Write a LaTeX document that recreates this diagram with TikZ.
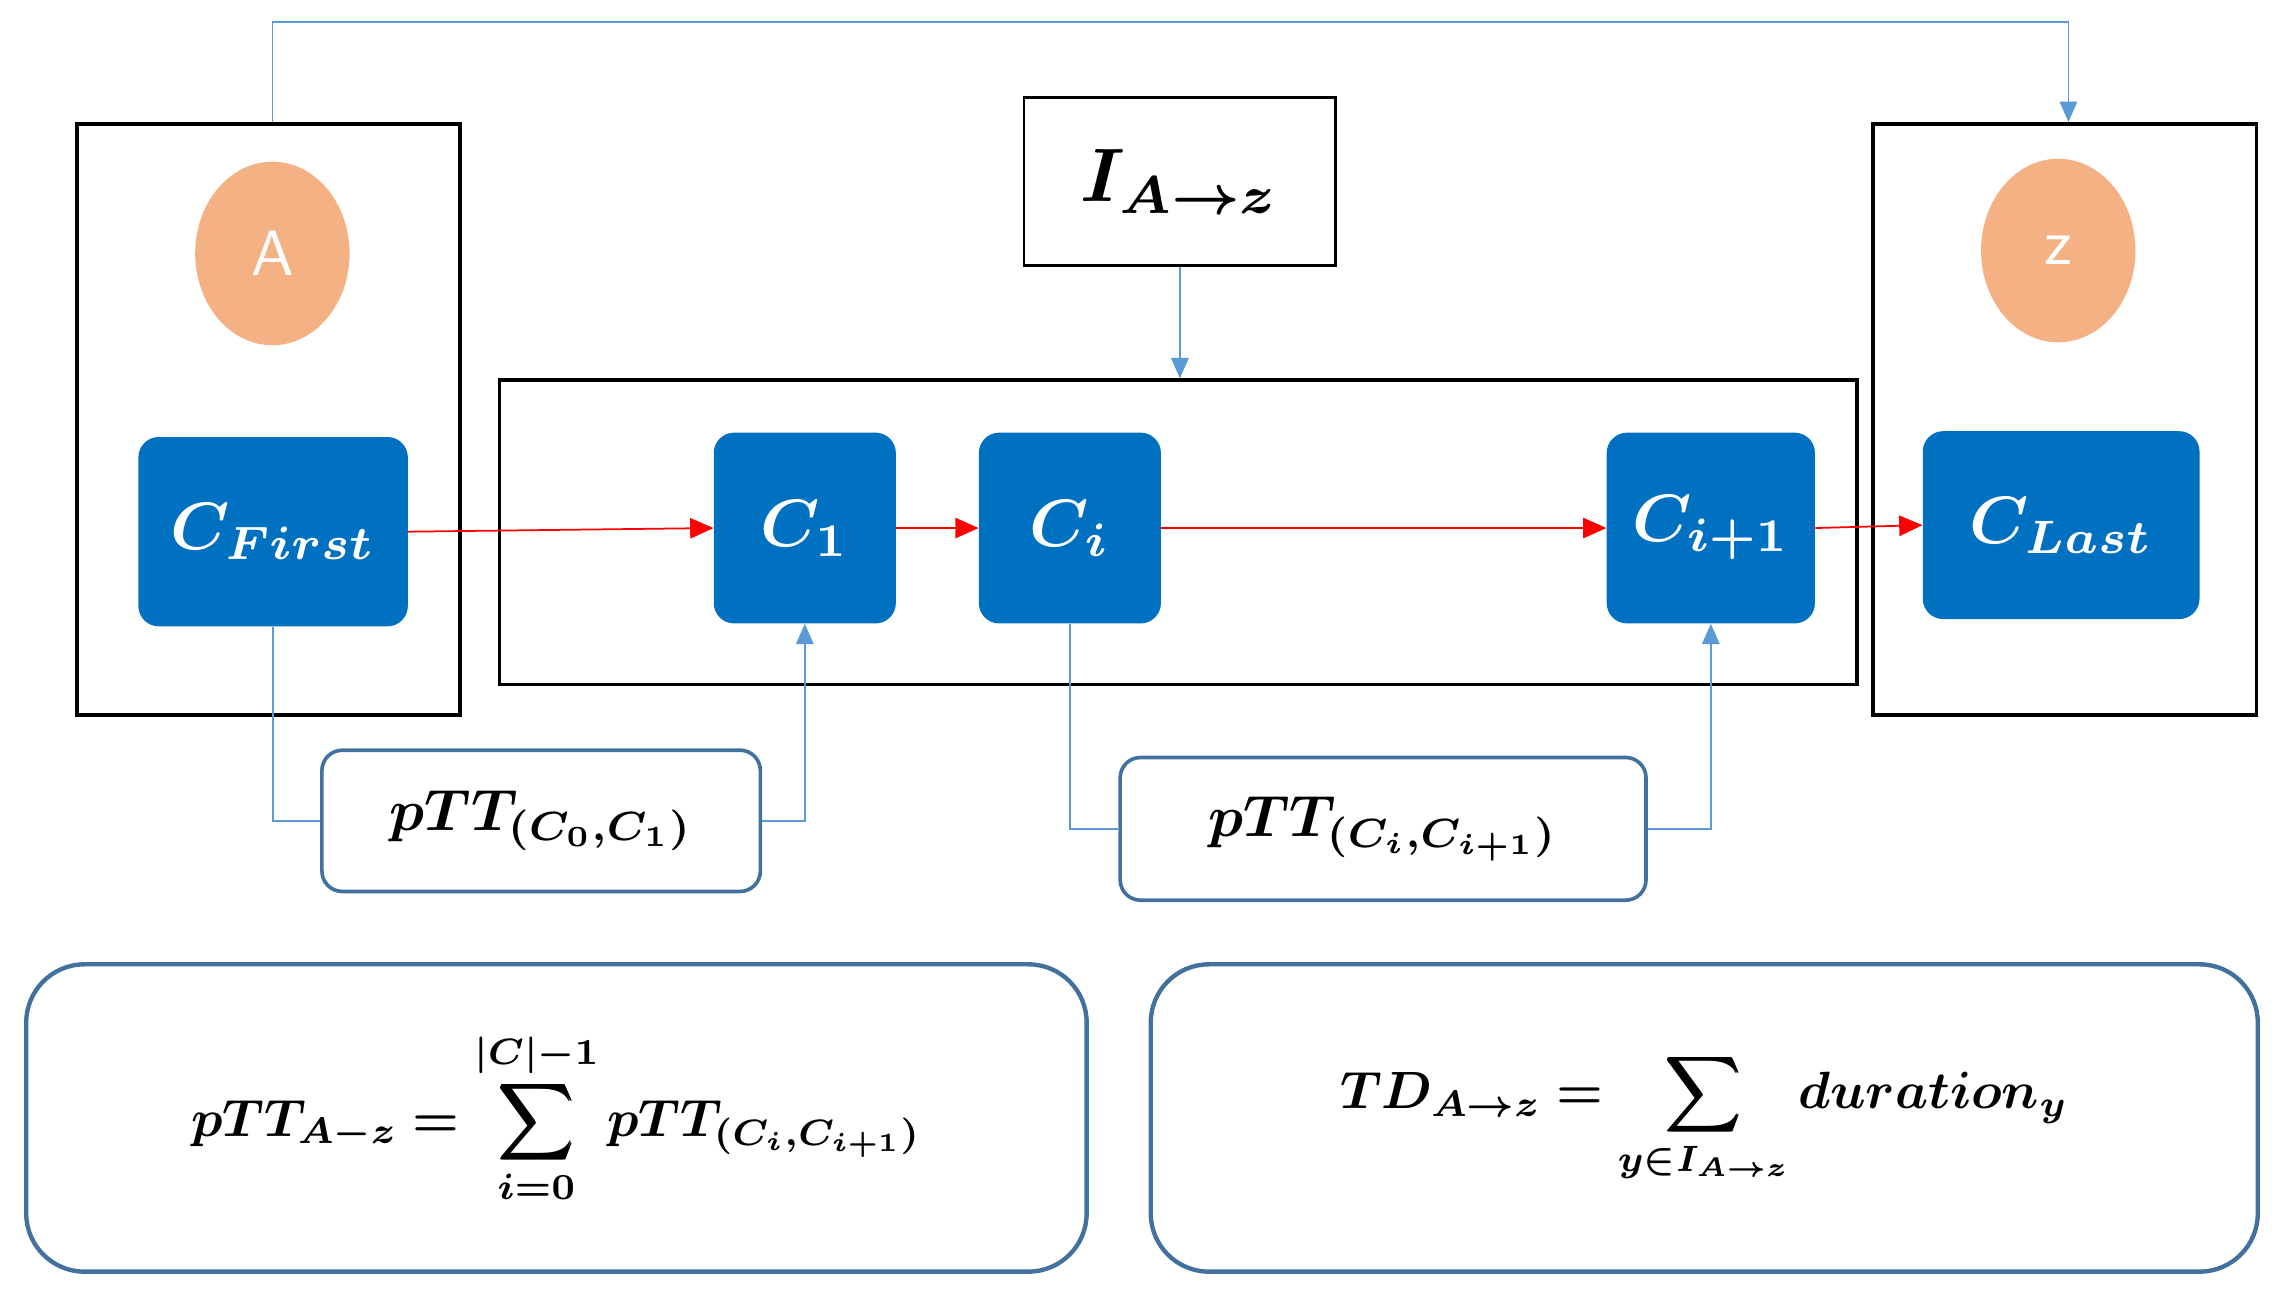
\documentclass[tikz,border=0pt]{standalone}
\usepackage{graphicx}
\usepackage{amsmath,bm}
\usetikzlibrary{arrows.meta,shapes.geometric}
\definecolor{cblue}{HTML}{0070C0}
\definecolor{lblue}{HTML}{5B9BD5}
\definecolor{bord}{HTML}{41719C}
\definecolor{orng}{HTML}{F4B183}
\newcommand{\mysc}[2]{\scalebox{#1}{$#2$}}
\tikzset{
 frame/.style={draw=black,line width=2.5pt,inner sep=0},
 cnode/.style={fill=cblue,rounded corners=14pt,text=white,inner sep=0},
 ell/.style={ellipse,fill=orng,text=white,inner sep=0,font=\sffamily},
 pbox/.style={draw=bord,line width=2.5pt,rounded corners=14pt,inner sep=0},
 fbox/.style={draw=bord,line width=3pt,rounded corners=40pt,inner sep=0},
 lb/.style={draw=lblue,line width=1.2pt},
 la/.style={lb,-{Triangle[length=14pt,width=12pt]}},
 ra/.style={draw=red,line width=1.2pt,-{Triangle[length=16pt,width=14pt]}}
}
\begin{document}
\begin{tikzpicture}[x=1pt,y=-1pt]
\useasboundingbox (0,0) rectangle (1568,895);
\node[frame,minimum width=263,minimum height=406] (L) at (184.5,288) {};
\node[frame,minimum width=932,minimum height=209] (M) at (809,365.5) {};
\node[frame,minimum width=263,minimum height=406] (R) at (1417.5,288) {};
\node[frame,line width=2pt,minimum width=214,minimum height=115] (I) at (810,124.5) {\mysc{5.2}{\bm{I_{A\to z}}}};
\node[ell,minimum width=106,minimum height=126] (A) at (187,174) {\scalebox{4.4}{A}};
\node[ell,minimum width=106,minimum height=126] (Z) at (1413,172) {\scalebox{4.4}{z}};
\node[cnode,minimum width=185,minimum height=130] (CF) at (187.5,365) {\mysc{4.6}{\bm{C_{First}}}};
\node[cnode,minimum width=125,minimum height=131] (C1) at (552.5,362.5) {\mysc{4.6}{\bm{C_1}}};
\node[cnode,minimum width=125,minimum height=131] (Ci) at (734.5,362.5) {\mysc{4.6}{\bm{C_i}}};
\node[cnode,minimum width=143,minimum height=131] (Cn) at (1174.5,362.5) {\mysc{4.6}{\bm{C_{i+1}}}};
\node[cnode,minimum width=190,minimum height=129] (CL) at (1415,360.5) {\mysc{4.6}{\bm{C_{Last}}}};
\node[pbox,minimum width=301,minimum height=97] (P1) at (371.5,563.5) {\mysc{4}{\bm{pTT_{(C_0,C_1)}}}};
\node[pbox,minimum width=361,minimum height=98] (P2) at (949.5,569) {\mysc{4}{\bm{pTT_{(C_i,C_{i+1})}}}};
\node[fbox,minimum width=728,minimum height=211] (F1) at (382,767.5) {\mysc{3.6}{\displaystyle\bm{pTT_{A-z}=\sum_{i=0}^{|C|-1}pTT_{(C_i,C_{i+1})}}}};
\node[fbox,minimum width=760,minimum height=211] (F2) at (1170,767.5) {\mysc{3.6}{\displaystyle\bm{TD_{A\to z}=\sum_{y\in I_{A\to z}}duration_y}}};
\coordinate (t1) at (187,15); \coordinate (t2) at (1420,15);
\draw[la] (L.north -| A) -- (t1) -- (t2) -- (t2 |- R.north);
\draw[la] (I.south) -- (M.north -| I.south);
\draw[ra] (CF.east) -- (C1.west);
\draw[ra] (C1.east) -- (Ci.west);
\draw[ra] (Ci.east) -- (Cn.west);
\draw[ra] (Cn.east) -- (CL.west);
\draw[lb] (CF.south) |- (P1.west);
\draw[la] (P1.east) -| (C1.south);
\draw[lb] (Ci.south) |- (P2.west);
\draw[la] (P2.east) -| (Cn.south);
\end{tikzpicture}
\end{document}
